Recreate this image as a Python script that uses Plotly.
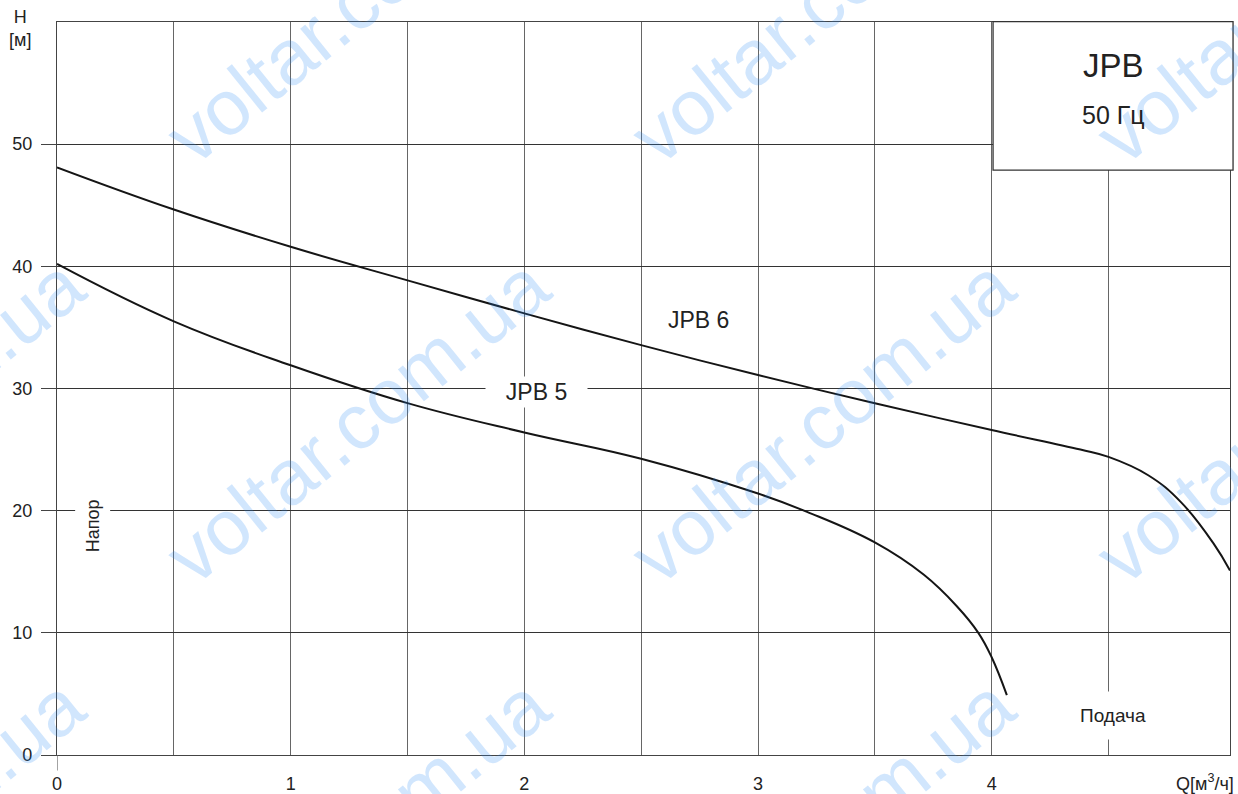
import plotly.graph_objects as go

# ---- data ----
q_jpb6 = [0, 0.5, 1, 1.5, 2, 2.5, 3, 3.5, 4, 4.38, 4.5, 4.67, 4.81, 4.95, 5.02]
h_jpb6 = [48.1, 44.65, 41.6, 38.85, 36.15, 33.55, 31.1, 28.8, 26.6, 25.0, 24.4, 22.9, 20.7, 17.3, 15.1]

q_jpb5 = [0, 0.5, 1, 1.5, 2, 2.5, 3, 3.21, 3.5, 3.71, 3.85, 3.943, 4.0, 4.065]
h_jpb5 = [40.2, 35.5, 31.9, 28.8, 26.4, 24.25, 21.4, 19.9, 17.4, 14.75, 12.2, 10.0, 8.0, 4.9]

x_grid = [0, 0.5, 1, 1.5, 2, 2.5, 3, 3.5, 4, 4.5]
x_ticktext = ["0", " ", "1", " ", "2", " ", "3", " ", "4", " "]
y_ticks = [0, 10, 20, 30, 40, 50]

FONT = "Liberation Sans, Arial, Helvetica, sans-serif"
TXT = "#222222"

fig = go.Figure()
for q, h in [(q_jpb6, h_jpb6), (q_jpb5, h_jpb5)]:
    fig.add_trace(go.Scatter(x=q, y=h, mode="lines",
                             line=dict(color="#151515", width=2, shape="spline", smoothing=1.2),
                             showlegend=False, hoverinfo="skip"))

annotations = []
# watermark lattice (drawn first, semi-transparent)
W0x, W0y = 0.2566, 0.4572
dx, dy = 465 / 1173, 420 / 733
for r in (-1, 0, 1):
    for k in (-1, 0, 1, 2):
        annotations.append(dict(
            text="voltar.com.ua", xref="paper", yref="paper",
            x=W0x + k * dx, y=W0y - r * dy, showarrow=False, textangle=-39,
            xanchor="center", yanchor="middle",
            font=dict(family=FONT, size=78, color="rgba(40,135,245,0.21)")))


def lab(text, x, y, size, ref="data", **kw):
    d = dict(text=text, x=x, y=y, showarrow=False, xanchor="center", yanchor="middle",
             xref="x" if ref == "data" else "paper", yref="y" if ref == "data" else "paper",
             font=dict(family=FONT, size=size, color=TXT))
    d.update(kw)
    return d


annotations += [
    lab("JPB 6", 2.747, 35.6, 23),
    lab("JPB 5", 2.054, 29.7, 23, bgcolor="white", borderpad=2, width=97),
    lab("Напор", 0.154, 18.8, 18, textangle=-90, bgcolor="white", borderpad=7),
    lab("Подача", 4.519, 3.27, 19, bgcolor="white", borderpad=13),
    lab("JPB", 0.9003, 0.941, 33, ref="paper"),
    lab("50 Гц", 0.9003, 0.873, 25, ref="paper"),
    lab("H<br>[м]", -0.0315, 0.9918, 18, ref="paper", align="center"),
    lab("Q[м<sup>3</sup>/ч]", 0.9787, -0.038, 18, ref="paper"),
]

shapes = [
    # title box
    dict(type="rect", xref="paper", yref="paper", x0=0.798, x1=1.0026, y0=0.798, y1=1.0005,
         fillcolor="white", line=dict(color="#333333", width=1.3), layer="above"),
    # extension of the Q=0 axis below the plot
    dict(type="line", xref="x", yref="paper", x0=0, x1=0, y0=-0.021, y1=0,
         line=dict(color="#666666", width=1.2)),
]

fig.update_layout(
    width=1238, height=794,
    margin=dict(l=57, r=8, t=22, b=39, autoexpand=False),
    paper_bgcolor="white", plot_bgcolor="white",
    annotations=annotations, shapes=shapes,
    xaxis=dict(range=[0, 5.02], tickvals=x_grid, ticktext=x_ticktext,
               showgrid=True, gridcolor="#666666", gridwidth=1,
               showline=True, mirror=True, linecolor="#444444", linewidth=1.2,
               ticks="", zeroline=False, ticklabelstandoff=12, automargin=False,
               tickfont=dict(family=FONT, size=18, color=TXT)),
    yaxis=dict(range=[0, 60], tickvals=y_ticks,
               showgrid=True, gridcolor="#333333", gridwidth=1,
               showline=True, mirror=True, linecolor="#444444", linewidth=1.2,
               ticks="outside", ticklen=15, tickcolor="#444444", tickwidth=1.2,
               zeroline=False, ticklabelstandoff=5, automargin=False,
               tickfont=dict(family=FONT, size=18, color=TXT)),
)

fig.write_html("out.html", config={"displayModeBar": False},
               post_script="document.body.style.margin='0';document.body.style.overflow='hidden';")
